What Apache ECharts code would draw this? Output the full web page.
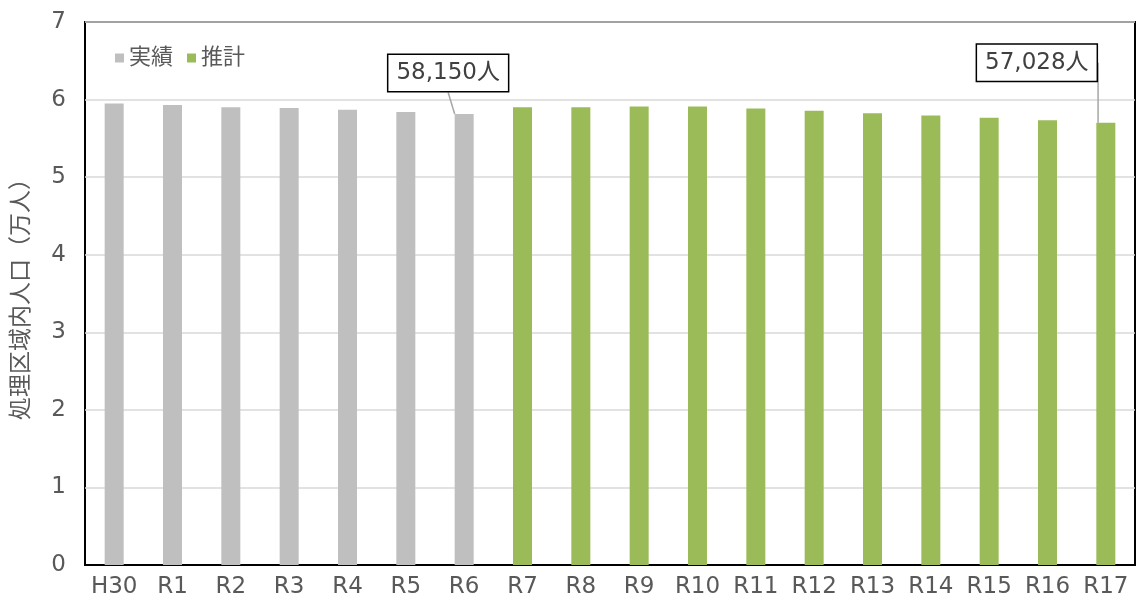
<!DOCTYPE html>
<html><head><meta charset="utf-8">
<script src="https://cdn.jsdelivr.net/npm/echarts@6/dist/echarts.min.js"></script>
<style>html,body{margin:0;padding:0;background:#fff}#c{width:1137px;height:602px}</style>
</head><body><div id="c"></div>
<script>
var categories = ['H30','R1','R2','R3','R4','R5','R6','R7','R8','R9','R10','R11','R12','R13','R14','R15','R16','R17'];
var actual = [5.95, 5.93, 5.90, 5.89, 5.87, 5.84, 5.815, '-', '-', '-', '-', '-', '-', '-', '-', '-', '-', '-'];
var estimate = ['-', '-', '-', '-', '-', '-', '-', 5.90, 5.90, 5.91, 5.91, 5.885, 5.855, 5.825, 5.795, 5.765, 5.735, 5.7028];
var yTicks = [0,1,2,3,4,5,6,7];
var calloutText = {6: '58,150人', 17: '57,028人'};

var FONT = '"DejaVu Sans", "Noto Sans CJK JP", sans-serif';
var TXT = '#595959';
function callout(idx) {
  return {
    show: true, position: 'top', distance: 5,
    formatter: function () { return calloutText[idx]; },
    color: '#404040', fontFamily: FONT, fontSize: 23,
    backgroundColor: '#fff', borderColor: '#000', borderWidth: 1.5,
    padding: [7, 8, 6, 8]
  };
}
function mkData(arr) {
  return arr.map(function (v, i) {
    if (calloutText[i] && v !== '-') {
      return { value: v, label: callout(i), labelLine: { show: true, lineStyle: { color: '#A6A6A6', width: 1.5 } } };
    }
    return v;
  });
}
var chart = echarts.init(document.getElementById('c'));
chart.setOption({
  animation: false,
  textStyle: { fontFamily: FONT },
  grid: { left: 85, right: 2, top: 22, bottom: 37, outerBoundsMode: 'none', containLabel: false,
    show: true, borderColor: '#000', borderWidth: 2, backgroundColor: 'transparent' },
  legend: {
    left: 110, top: 42, itemWidth: 9, itemHeight: 9, itemGap: 14,
    textStyle: { color: TXT, fontSize: 22, fontFamily: FONT },
    data: [{ name: '実績', icon: 'rect' }, { name: '推計', icon: 'rect' }]
  },
  xAxis: {
    type: 'category', data: categories,
    axisLine: { show: true, lineStyle: { color: '#000', width: 2 } },
    axisTick: { show: false },
    axisLabel: { color: TXT, fontSize: 23, margin: 11, interval: 0, fontFamily: FONT }
  },
  yAxis: {
    type: 'value', min: 0, max: 7, interval: 1,
    name: '処理区域内人口（万人）', nameLocation: 'middle', nameGap: 51,
    nameTextStyle: { color: TXT, fontSize: 23, fontFamily: FONT },
    axisLine: { show: false }, axisTick: { show: false },
    axisLabel: { color: TXT, fontSize: 23, margin: 19, fontFamily: FONT,
      formatter: function (v) { return yTicks.indexOf(v) >= 0 ? String(v) : ''; } },
    splitLine: { lineStyle: { color: '#D9D9D9', width: 1.5 } }
  },
  series: [
    { name: '実績', type: 'bar', barWidth: 19, barGap: '-100%', itemStyle: { color: '#BFBFBF' },
      data: mkData(actual),
      labelLayout: function (p) { return p.dataIndex === 6 ? { dx: -16, dy: -18 } : {}; } },
    { name: '推計', type: 'bar', barWidth: 19, barGap: '-100%', itemStyle: { color: '#9BBB59' },
      data: mkData(estimate),
      labelLayout: function (p) { return p.dataIndex === 17 ? { dx: -69, dy: -37 } : {}; } }
  ]
});
</script></body></html>
